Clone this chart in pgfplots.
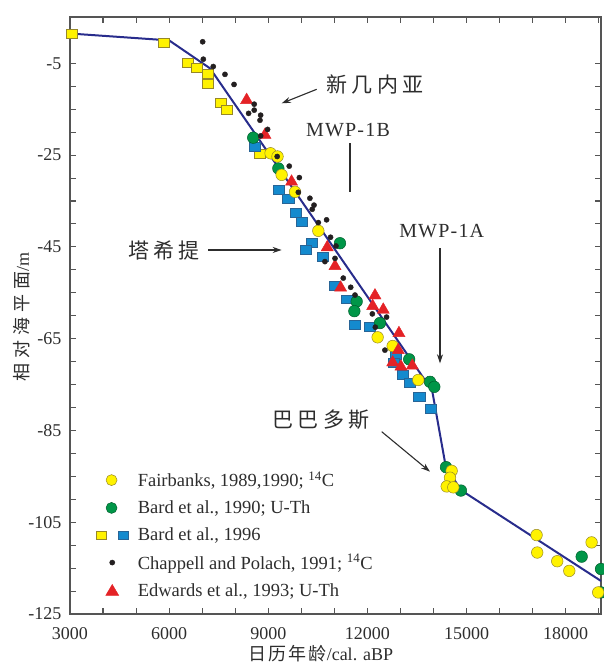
\documentclass[border=0pt]{standalone}
\usepackage{fontspec}
\setmainfont{Liberation Serif}
\newfontfamily\cjk{Noto Sans CJK SC}
\usepackage{pgfplots}
\pgfplotsset{compat=1.18}
\usetikzlibrary{arrows.meta}

\definecolor{ylw}{RGB}{255,242,0}
\definecolor{ylwD}{RGB}{150,135,40}
\definecolor{grn}{RGB}{0,150,72}
\definecolor{grnD}{RGB}{0,95,45}
\definecolor{blu}{RGB}{20,138,206}
\definecolor{bluD}{RGB}{40,100,150}
\definecolor{redC}{RGB}{228,34,38}
\definecolor{dotC}{RGB}{35,31,32}
\definecolor{lineC}{RGB}{40,44,140}
\definecolor{axisC}{RGB}{85,85,85}
\definecolor{textC}{RGB}{45,45,45}

\newcommand{\cs}{\hspace{4.5pt}}

\begin{document}
\begin{tikzpicture}
\useasboundingbox (0,0) rectangle (603pt,664pt);
\begin{axis}[
  at={(70pt,50pt)}, anchor=south west,
  scale only axis, width=531pt, height=597pt,
  xmin=3000, xmax=19070, ymin=-125, ymax=5.1,
  xtick={3000,6000,...,18000},
  minor xtick={4000,5000,7000,8000,10000,11000,13000,14000,16000,17000,19000},
  ytick={-125,-105,...,-5},
  minor ytick={-120,-115,-110,-100,-95,-90,-80,-75,-70,-60,-55,-50,-40,-35,-30,-20,-15,-10},
  tick align=inside,
  major tick length=6pt, minor tick length=6pt,
  axis line style={draw=axisC, line width=1.3pt},
  every tick/.style={draw=axisC, line width=1.1pt},
  minor tick style={draw=axisC, line width=1.1pt},
  scaled x ticks=false,
  /pgf/number format/1000 sep={},
  /pgf/number format/assume math mode=true,
  tick label style={font=\fontsize{18}{20}\selectfont, text=textC},
  xticklabel style={yshift=-10pt},
  yticklabel style={xshift=-5pt},
  legend style={draw=none, fill=none, at={(0.0435,0.245)}, anchor=north west,
    font=\fontsize{18.5}{20}\selectfont, text=textC, row sep=8.5pt, column sep=7pt},
  legend cell align=left,
]
% legend in the reference's order
\addlegendimage{legend image code/.code={\path (0,0) (32pt,0);
  \filldraw[fill=ylw,draw=ylwD,line width=0.5pt] (15pt,0) circle (5.5pt);}}
\addlegendentry{Fairbanks, 1989,1990; \textsuperscript{14}C}
\addlegendimage{legend image code/.code={\path (0,0) (32pt,0);
  \filldraw[fill=grn,draw=grnD,line width=0.5pt] (15pt,0) circle (5.5pt);}}
\addlegendentry{Bard et al., 1990; U-Th}
\addlegendimage{legend image code/.code={\path (0,0) (32pt,0);
  \filldraw[fill=ylw,draw=ylwD,line width=0.5pt] (0,-4pt) rectangle (10pt,4pt);
  \filldraw[fill=blu,draw=bluD,line width=0.5pt] (21.5pt,-4pt) rectangle (32pt,4pt);}}
\addlegendentry{Bard et al., 1996}
\addlegendimage{legend image code/.code={\path (0,0) (32pt,0);
  \fill[dotC] (15.7pt,0) circle (2.6pt);}}
\addlegendentry{Chappell and Polach, 1991; \textsuperscript{14}C}
\addlegendimage{legend image code/.code={\path (0,0) (32pt,0);
  \fill[redC] (15.7pt,6pt) -- (9.2pt,-5pt) -- (22.2pt,-5pt) -- cycle;}}
\addlegendentry{Edwards et al., 1993; U-Th}

% sea-level curve
\addplot[lineC, line width=2pt, forget plot] coordinates {
  (3000,1.5) (6000,0) (7240,-6.1) (13960,-76.3) (14370,-92.8) (14830,-98.0) (19070,-117.8)};

% Bard et al., 1996 (yellow squares)
\addplot[only marks, forget plot, mark=square*, mark size=5.6pt,
  mark options={fill=ylw, draw=ylwD, line width=0.5pt, yscale=0.8}] coordinates {
  (3060,1.5) (5845,-0.5) (6560,-4.8) (6835,-5.9) (7165,-7.2) (7165,-9.4)
  (7570,-13.5) (7740,-15.2) (8750,-24.8)};

% Bard et al., 1996 (blue squares)
\addplot[only marks, forget plot, mark=square*, mark size=5.6pt,
  mark options={fill=blu, draw=bluD, line width=0.4pt, yscale=0.8}] coordinates {
  (8600,-23.2) (9305,-32.5) (9605,-34.6) (9840,-37.5) (10010,-39.5) (10315,-44.1)
  (10140,-45.7) (10650,-47.2) (11020,-53.5) (11390,-56.4) (11605,-62.0) (12080,-62.4)
  (12865,-68.6) (12785,-70.2) (13070,-72.9) (13270,-74.5) (13570,-77.6) (13915,-80.2)};

% Bard et al., 1990 (green circles)
\addplot[only marks, forget plot, mark=*, mark size=5.8pt,
  mark options={fill=grn, draw=grnD, line width=0.5pt}] coordinates {
  (8545,-21.2) (9305,-27.9) (11170,-44.2) (11675,-56.9) (11605,-59.0) (12380,-61.6)
  (13265,-69.5) (13895,-74.4) (14025,-75.5) (14380,-93.0) (14830,-98.1)
  (18485,-112.5) (19070,-115.2) (19070,-120.3)};

% Fairbanks (yellow circles)
\addplot[only marks, forget plot, mark=*, mark size=5.8pt,
  mark options={fill=ylw, draw=ylwD, line width=0.5pt}] coordinates {
  (9070,-24.6) (9280,-25.3) (9405,-29.3) (9810,-33.0) (10515,-41.5) (12310,-64.7)
  (12765,-66.6) (13540,-74.0) (14550,-93.8) (14500,-95.3) (14400,-97.2) (14600,-97.4)
  (17120,-107.8) (17140,-111.6) (17745,-113.5) (18110,-115.6) (18785,-109.4) (18985,-120.3)};

% Edwards et al., 1993 (red triangles)
\addplot[only marks, forget plot, mark=triangle*, mark size=7pt,
  mark options={fill=redC, draw=redC}] coordinates {
  (8345,-13.0) (8900,-20.6) (9705,-30.8) (10785,-45.1) (11020,-49.2) (11190,-53.9)
  (12230,-55.6) (12160,-57.9) (12480,-58.7) (12955,-63.8) (12935,-67.5) (12765,-70.2)
  (13015,-71.1) (13360,-70.9)};

% Chappell and Polach, 1991 (black dots)
\addplot[only marks, forget plot, mark=*, mark size=2.6pt,
  mark options={fill=dotC, draw=dotC}] coordinates {
  (7015,-0.3) (7035,-4.1) (7335,-5.7) (7690,-7.4) (7965,-9.6) (8575,-13.9)
  (8575,-15.2) (8405,-15.9) (8770,-16.3) (8750,-17.4) (8980,-19.4) (8770,-20.8)
  (9270,-25.3) (9635,-27.4) (9940,-29.9) (9910,-33.1) (10260,-34.4) (10385,-35.9)
  (10330,-36.8) (10515,-39.7) (10765,-39.1) (10885,-42.9) (11050,-44.8) (11020,-47.5)
  (10715,-48.2) (11270,-51.8) (11495,-53.8) (11625,-55.5) (12150,-59.6) (12580,-60.3)
  (12240,-62.5) (12530,-67.5)};
\end{axis}

% annotations
\begin{scope}[textC, font=\fontsize{21}{21}\selectfont]
\node at (375pt,579pt) {\cjk 新\cs 几\cs 内\cs 亚};
\draw[line width=1.1pt, -{Stealth[length=9pt,width=6pt]}] (316.7pt,574.7pt) -- (281.7pt,560.7pt);
\node[font=\fontsize{20}{20}\selectfont\addfontfeature{LetterSpace=6}] at (348pt,534pt) {MWP-1B};
\draw[line width=1.1pt] (350pt,520.7pt) -- (350pt,472.3pt);
\node at (164pt,413pt) {\cjk 塔\cs 希\cs 提};
\draw[line width=1.1pt, -{Stealth[length=9pt,width=6pt]}] (208.3pt,414pt) -- (281.7pt,414pt);
\node[font=\fontsize{20}{20}\selectfont\addfontfeature{LetterSpace=6}] at (441.7pt,433.3pt) {MWP-1A};
\draw[line width=1.1pt, -{Stealth[length=9pt,width=6pt]}] (440pt,415.7pt) -- (440pt,300.7pt);
\node at (321pt,244pt) {\cjk 巴\cs 巴\cs 多\cs 斯};
\draw[line width=1.1pt, -{Stealth[length=9pt,width=6pt]}] (381.7pt,232.3pt) -- (430pt,192.3pt);
\end{scope}

% axis titles
\node[textC, font=\fontsize{18}{18}\selectfont] at (321pt,10pt)
  {{\cjk 日\hspace{2pt}历\hspace{2pt}年\hspace{2pt}龄}/cal. aBP};
\node[textC, font=\fontsize{18}{18}\selectfont, rotate=90] at (22pt,347pt)
  {{\cjk 相\hspace{5pt}对\hspace{5pt}海\hspace{5pt}平\hspace{5pt}面}/m};
\end{tikzpicture}
\end{document}
